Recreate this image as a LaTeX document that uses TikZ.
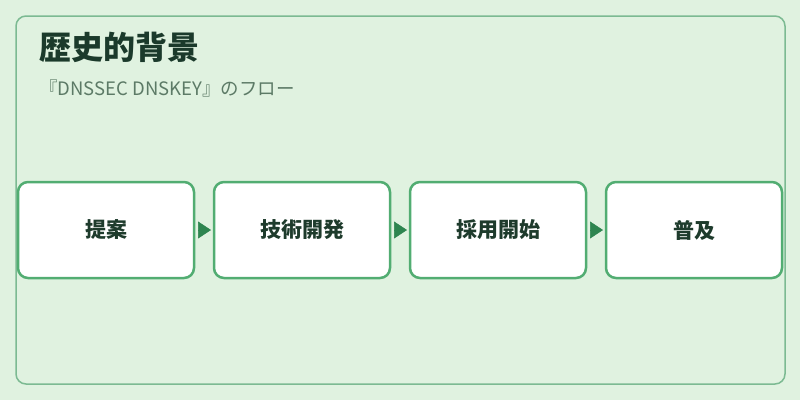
\documentclass[tikz,border=0pt]{standalone}
\usepackage{fontspec}
\setmainfont{Noto Sans CJK JP}
\usepackage{tikz}
\usetikzlibrary{arrows.meta, positioning}
\usepackage{xcolor}

\definecolor{bgmint}{HTML}{E0F2E0}
\definecolor{framegreen}{HTML}{7CBA92}
\definecolor{boxgreen}{HTML}{52AD72}
\definecolor{arrowgreen}{HTML}{2E8550}
\definecolor{titledark}{HTML}{1B3A2B}
\definecolor{subgray}{HTML}{5C7A66}
\definecolor{labeldark}{HTML}{1E3B2C}

\begin{document}
\begin{tikzpicture}[
    x=1pt, y=-1pt,
    stagebox/.style={draw=boxgreen, line width=2.5pt, fill=white, rounded corners=10pt, minimum width=176pt, minimum height=96pt, font=\fontsize{21}{25}\selectfont\bfseries, text=labeldark},
    flow/.style={-{Triangle[length=13pt, width=17pt]}, draw=arrowgreen, fill=arrowgreen, line width=0.5pt, shorten <=2.75pt, shorten >=1.75pt},
    title/.style={font=\fontsize{32}{38}\selectfont\bfseries, text=titledark, inner sep=0pt, anchor=west},
    subtitle/.style={font=\fontsize{18.5}{22}\selectfont, text=subgray, inner sep=0pt, anchor=west},
    node distance=17.5pt
]

% Background and frame
\fill[bgmint] (0,0) rectangle (800,400);
\draw[framegreen, line width=1.5pt, rounded corners=10pt] (16,16) rectangle (785,384);

% Heading
\node[title] (heading) at (39,47) {歴史的背景};
\node[subtitle] (subheading) at (39,88) {『DNSSEC DNSKEY』のフロー};

% Stages with arrows between them
\foreach \name [count=\i] in {提案, 技術開発, 採用開始, 普及} {
    \ifnum\i=1
        \node[stagebox] (stage\i) at (106,230) {\name};
    \else
        \pgfmathtruncatemacro{\prev}{\i-1}
        \node[stagebox, right=of stage\prev] (stage\i) {\name};
        \draw[flow] (stage\prev) -- (stage\i);
    \fi
}

\end{tikzpicture}
\end{document}
